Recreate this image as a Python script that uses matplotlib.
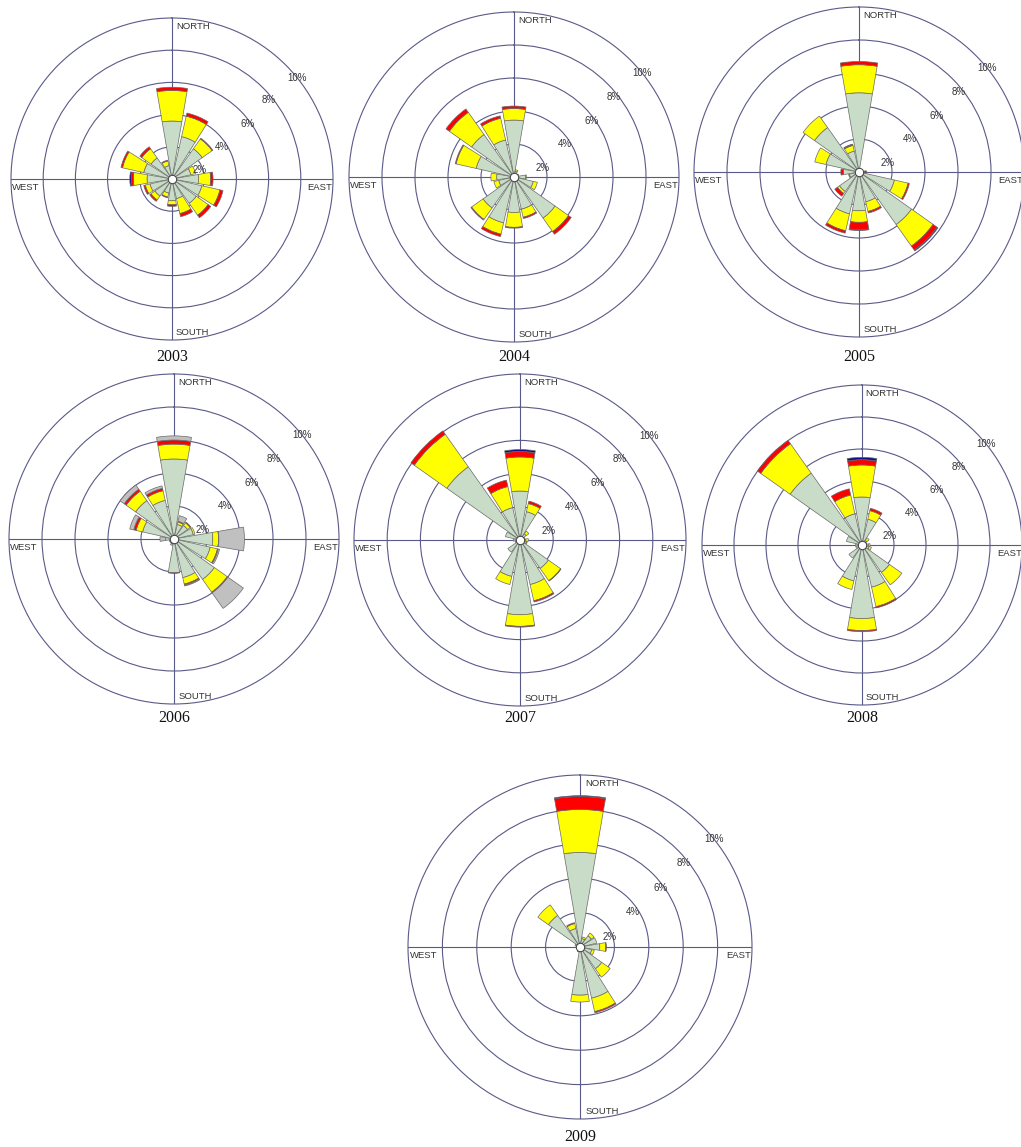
import numpy as np
import matplotlib
matplotlib.use("Agg")
import matplotlib.pyplot as plt

# ---------------- data (percent frequency, 16 directions, N clockwise) ----------------
directions = ["N", "NNE", "NE", "ENE", "E", "ESE", "SE", "SSE",
              "S", "SSW", "SW", "WSW", "W", "WNW", "NW", "NNW"]
years = ["2003", "2004", "2005", "2006", "2007", "2008", "2009"]
ring_values = [2, 4, 6, 8, 10]
ring_labels = ["2%", "4%", "6%", "8%", "10%"]
compass_labels = ["NORTH", "EAST", "SOUTH", "WEST"]

green_2003 = [3.6, 2.7, 2.3, 1.2, 1.65, 1.9, 1.85, 1.25, 1.35, 0.9, 1.3, 1.4, 1.55, 1.8, 1.6, 0.85]
yellow_2003 = [1.9, 1.3, 0.75, 0.3, 0.75, 1.15, 0.9, 0.95, 0.25, 0.25, 0.3, 0.3, 0.85, 1.35, 0.7, 0.3]
red_2003 = [0.2, 0.2, 0.05, 0.0, 0.15, 0.2, 0.2, 0.2, 0.1, 0.05, 0.1, 0.1, 0.12, 0.1, 0.15, 0.05]
blue_2003 = [0, 0, 0, 0, 0, 0, 0, 0, 0, 0, 0, 0, 0.1, 0, 0, 0]

green_2004 = [3.45, 0.35, 0.25, 0.3, 0.7, 1.2, 3.05, 2.0, 2.15, 2.85, 2.3, 0.95, 1.05, 2.35, 3.15, 2.3]
yellow_2004 = [0.7, 0.1, 0, 0, 0.05, 0.25, 1.0, 0.5, 0.9, 0.7, 0.85, 0.3, 0.35, 1.25, 1.65, 1.35]
red_2004 = [0.15, 0, 0, 0, 0, 0, 0.2, 0.08, 0.05, 0.15, 0.05, 0, 0, 0.05, 0.25, 0.15]
blue_2004 = [0] * 16

green_2005 = [4.8, 0, 0, 0, 0.3, 2.2, 3.9, 1.85, 2.35, 2.6, 1.45, 0.6, 0.95, 2.05, 3.3, 1.3]
yellow_2005 = [1.7, 0, 0, 0, 0.05, 0.85, 1.6, 0.6, 0.7, 1.05, 0.15, 0.05, 0, 0.7, 0.85, 0.35]
red_2005 = [0.2, 0, 0, 0, 0.1, 0.08, 0.3, 0.1, 0.45, 0.15, 0.2, 0, 0.15, 0, 0, 0.05]
blue_2005 = [0, 0, 0, 0, 0, 0, 0.06, 0, 0.05, 0, 0, 0, 0, 0, 0, 0.03]

green_2006 = [4.85, 0.9, 1.0, 1.2, 2.35, 2.25, 3.0, 2.4, 2.05, 0.3, 0.3, 0.3, 0.5, 1.95, 2.85, 2.4]
yellow_2006 = [0.9, 0.15, 0.2, 0.1, 0.35, 0.45, 0.95, 0.4, 0, 0, 0, 0, 0, 0.4, 0.7, 0.6]
red_2006 = [0.25, 0.05, 0.05, 0, 0.02, 0.05, 0.05, 0.07, 0.03, 0, 0, 0, 0, 0.15, 0.15, 0.15]
blue_2006 = [0] * 16
gray_2006 = [0.25, 0.35, 0, 0, 1.55, 0.08, 1.15, 0.05, 0, 0.1, 0, 0, 0.35, 0.25, 0.3, 0.15]

green_2007 = [2.95, 1.75, 0.45, 0.3, 0.35, 0.4, 2.1, 2.75, 4.5, 2.25, 0.9, 0.3, 0.4, 0.9, 5.4, 2.0]
yellow_2007 = [2.05, 0.5, 0.2, 0, 0.15, 0.05, 0.9, 1.0, 0.7, 0.5, 0, 0, 0, 0, 2.4, 1.3]
red_2007 = [0.33, 0.15, 0, 0, 0, 0, 0.03, 0.08, 0.05, 0, 0, 0, 0, 0, 0.25, 0.4]
blue_2007 = [0.12, 0, 0, 0, 0, 0, 0, 0, 0, 0, 0, 0, 0, 0, 0, 0]

green_2008 = [3.0, 1.65, 0.35, 0.3, 0.4, 0.45, 2.1, 2.7, 4.6, 2.3, 1.0, 0.4, 0.4, 1.0, 5.5, 2.0]
yellow_2008 = [2.0, 0.55, 0.2, 0, 0.1, 0.15, 0.95, 1.25, 0.75, 0.55, 0, 0, 0, 0, 2.25, 1.2]
red_2008 = [0.33, 0.15, 0, 0, 0, 0, 0, 0.08, 0.07, 0, 0, 0, 0, 0, 0.25, 0.4]
blue_2008 = [0.15, 0, 0, 0, 0, 0, 0, 0, 0, 0, 0, 0, 0, 0, 0, 0]

green_2009 = [5.5, 0.5, 0.8, 1.0, 1.15, 0.7, 1.55, 3.05, 2.8, 0.3, 0.2, 0.2, 0.2, 0.3, 2.25, 1.1]
yellow_2009 = [2.5, 0.1, 0.2, 0, 0.35, 0.15, 0.6, 0.8, 0.4, 0, 0, 0, 0, 0, 0.75, 0.3]
red_2009 = [0.75, 0, 0, 0, 0.03, 0, 0, 0.07, 0, 0, 0, 0, 0, 0, 0, 0.05]
blue_2009 = [0.05, 0, 0, 0, 0, 0, 0, 0, 0, 0, 0, 0, 0, 0, 0, 0]

zeros = [0] * 16
series = {
    "2003": [green_2003, yellow_2003, red_2003, blue_2003, zeros],
    "2004": [green_2004, yellow_2004, red_2004, blue_2004, zeros],
    "2005": [green_2005, yellow_2005, red_2005, blue_2005, zeros],
    "2006": [green_2006, yellow_2006, red_2006, blue_2006, gray_2006],
    "2007": [green_2007, yellow_2007, red_2007, blue_2007, zeros],
    "2008": [green_2008, yellow_2008, red_2008, blue_2008, zeros],
    "2009": [green_2009, yellow_2009, red_2009, blue_2009, zeros],
}

# ---------------- style / layout ----------------
class_colors = ["#c8dcc8", "#ffff00", "#ff0000", "#10108a", "#c0c0c0"]
ring_color = "#5a5a88"
W, H = 1021, 1147
# (center x, center y, radius, label y) in pixels
layout = {
    "2003": (172, 179, 161, 357),
    "2004": (514, 177, 165, 357),
    "2005": (859, 172, 165, 357),
    "2006": (174, 539, 165, 718),
    "2007": (520, 540, 166, 718),
    "2008": (862, 545, 160, 718),
    "2009": (580, 947, 172, 1137),
}
label_angles = [72, 57, 54, 51, 51]
label_radii = [1.8, 3.7, 5.8, 7.75, 10.0]

fig = plt.figure(figsize=(W / 100, H / 100), dpi=100)
fig.patch.set_facecolor("white")

theta = np.deg2rad(np.arange(16) * 22.5)
width = np.deg2rad(19.5)

for yr in years:
    cx, cy, R, ly = layout[yr]
    ax = fig.add_axes([(cx - R) / W, (H - cy - R) / H, 2 * R / W, 2 * R / H],
                      projection="polar")
    ax.set_theta_zero_location("N")
    ax.set_theta_direction(-1)
    ax.set_ylim(0, 10)
    ax.set_rgrids([2, 4, 6, 8], labels=[])
    ax.set_thetagrids([0, 90, 180, 270], labels=[])
    ax.grid(True, color=ring_color, linewidth=0.8)
    ax.spines["polar"].set_color(ring_color)
    ax.spines["polar"].set_linewidth(0.8)
    ax.set_axisbelow(True)
    ax.tick_params(length=0)

    bottom = np.zeros(16)
    for vals, col in zip(series[yr], class_colors):
        v = np.asarray(vals, dtype=float)
        lw = np.where(v > 0, 0.5, 0.0)
        ax.bar(theta, v, width=width, bottom=bottom, color=col,
               edgecolor="#6a6a6a", linewidth=lw, zorder=3)
        bottom = bottom + v

    ax.plot([0], [0], marker="o", markersize=6, markerfacecolor="white",
            markeredgecolor="#404040", markeredgewidth=0.7, zorder=5)

    for lab, ang, rr in zip(ring_labels, label_angles, label_radii):
        ax.text(np.deg2rad(ang), rr, lab, ha="center", va="center",
                fontsize=7, family="Liberation Sans", color="#333333", zorder=6)

    ax.text(0.564, 0.975, compass_labels[0], transform=ax.transAxes, ha="center",
            va="center", fontsize=6.8, family="Liberation Sans", color="#333333")
    ax.text(0.96, 0.475, compass_labels[1], transform=ax.transAxes, ha="center",
            va="center", fontsize=6.8, family="Liberation Sans", color="#333333")
    ax.text(0.564, 0.022, compass_labels[2], transform=ax.transAxes, ha="center",
            va="center", fontsize=6.8, family="Liberation Sans", color="#333333")
    ax.text(0.045, 0.475, compass_labels[3], transform=ax.transAxes, ha="center",
            va="center", fontsize=6.8, family="Liberation Sans", color="#333333")

    fig.text(cx / W, 1 - ly / H, yr, ha="center", va="center",
             fontsize=11.5, family="Liberation Serif", color="#111111")

fig.savefig("out.png", dpi=100, facecolor="white")
